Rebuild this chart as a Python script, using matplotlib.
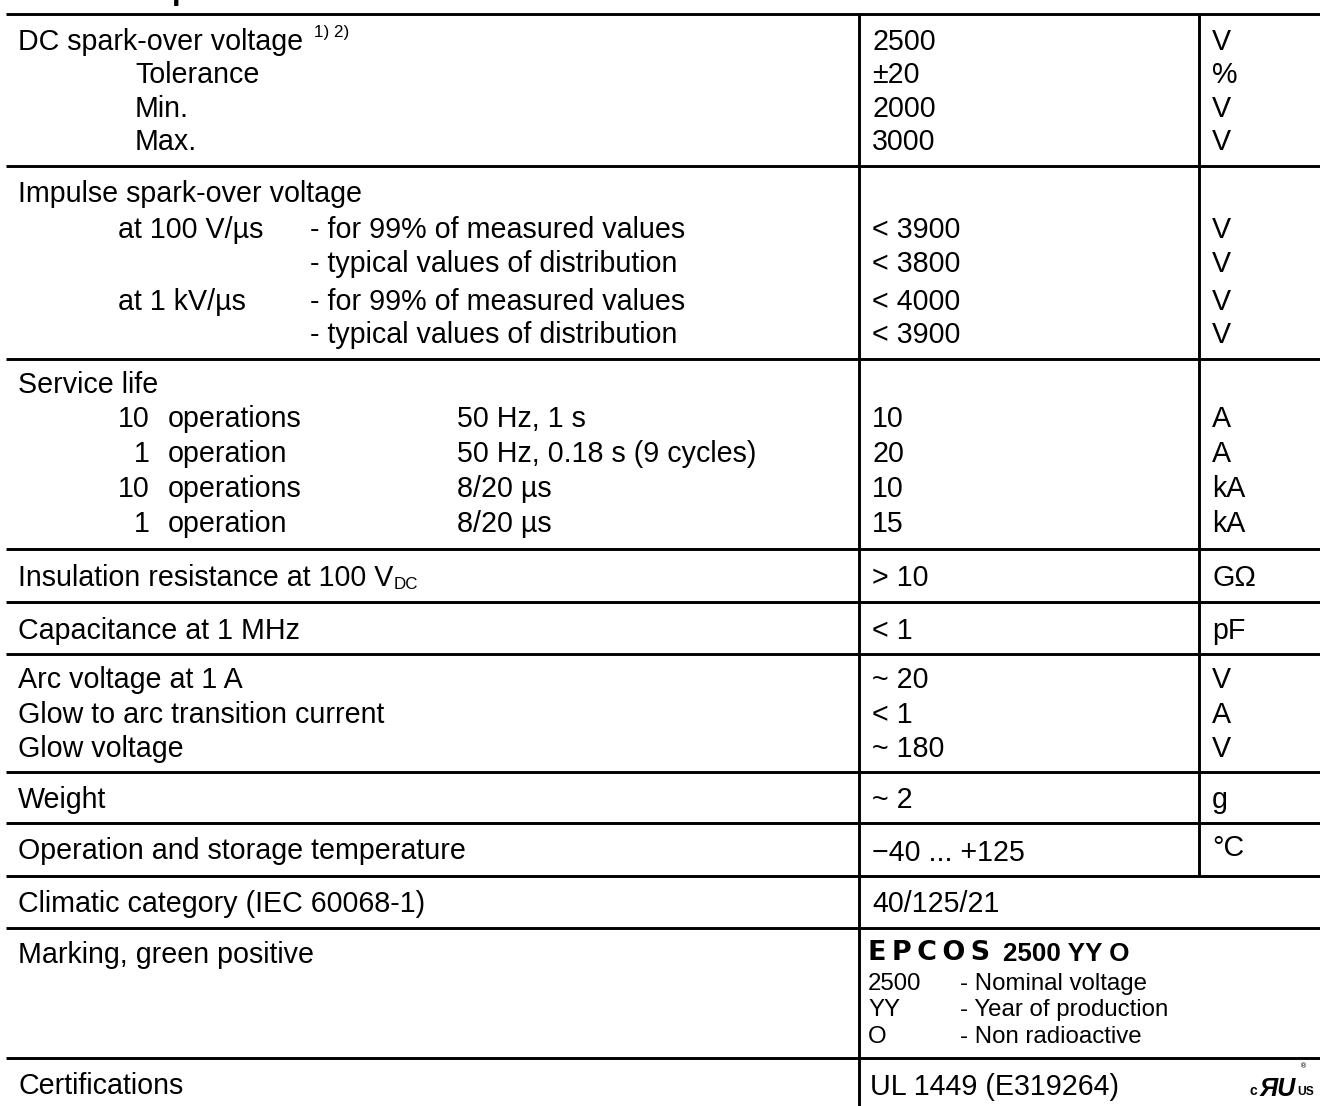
import matplotlib
matplotlib.use("Agg")
import matplotlib.pyplot as plt

FONT = "Liberation Sans"
PX = 0.72  # points per pixel at dpi 100
BODY = 28.6 * PX
SMALL = 24 * PX
SUP = 17 * PX

# ---- table content ----
title = "Electrical specifications"

dc_labels = ["DC spark-over voltage", "Tolerance", "Min.", "Max."]
dc_values = ["2500", "±20", "2000", "3000"]
dc_units = ["V", "%", "V", "V"]

imp_rates = ["at 100 V/µs", "", "at 1 kV/µs", ""]
imp_desc = ["- for 99% of measured values", "- typical values of distribution",
            "- for 99% of measured values", "- typical values of distribution"]
imp_values = ["< 3900", "< 3800", "< 4000", "< 3900"]
imp_units = ["V", "V", "V", "V"]

sl_counts = ["10", "1", "10", "1"]
sl_ops = ["operations", "operation", "operations", "operation"]
sl_cond = ["50 Hz, 1 s", "50 Hz, 0.18 s (9 cycles)", "8/20 µs", "8/20 µs"]
sl_values = ["10", "20", "10", "15"]
sl_units = ["A", "A", "kA", "kA"]

arc_labels = ["Arc voltage at 1 A", "Glow to arc transition current", "Glow voltage"]
arc_values = ["~ 20", "< 1", "~ 180"]
arc_units = ["V", "A", "V"]

single_labels = ["Capacitance at 1 MHz", "Weight", "Operation and storage temperature"]
single_values = ["< 1", "~ 2", "\u221240 ... +125"]
single_units = ["pF", "g", "°C"]

marking_codes = ["2500", "YY", "O"]
marking_meaning = ["- Nominal voltage", "- Year of production", "- Non radioactive"]

# ---- layout ----
fig = plt.figure(figsize=(13.2, 11.06), dpi=100)
ax = fig.add_axes([0, 0, 1, 1])
ax.set_xlim(0, 1320)
ax.set_ylim(1106, 0)
ax.axis("off")

LW = 2.1
X0, XV, XU = 18, 872, 1212
VL1, VL2 = 859, 1199
hlines = [14, 166, 359, 549, 602, 654, 772, 823, 876, 928, 1058]
for y in hlines:
    ax.plot([6, 1320], [y, y], color="black", lw=LW, solid_capstyle="butt")
ax.plot([VL1, VL1], [14, 1106], color="black", lw=LW, solid_capstyle="butt")
ax.plot([VL2, VL2], [14, 876], color="black", lw=LW, solid_capstyle="butt")


def put(x, y, s, size=BODY, **kw):
    kw.setdefault("family", FONT)
    return ax.text(x, y, s, fontsize=size, va="baseline", color="black", **kw)


# title (only its descender is visible above the top rule)
put(8, -1.5, title, size=31 * PX, weight="bold", clip_on=False)

# DC spark-over voltage
dc_base = [50, 83, 117, 150]
for i, (lab, val, unit, yb) in enumerate(zip(dc_labels, dc_values, dc_units, dc_base)):
    t = put(X0 if i == 0 else 135, yb, lab)
    if i == 0:
        ax.annotate("1) 2)", xy=(1, 0), xycoords=t, xytext=(8, 13.5),
                    textcoords="offset points", fontsize=SUP, family=FONT,
                    va="baseline", ha="left")
    put(XV, yb, val)
    put(XU, yb, unit)

# Impulse spark-over voltage
put(X0, 202, "Impulse spark-over voltage")
imp_base = [238, 272, 310, 343]
for rate, desc, val, unit, yb in zip(imp_rates, imp_desc, imp_values, imp_units, imp_base):
    if rate:
        put(118, yb, rate)
    put(310, yb, desc)
    put(XV, yb, val)
    put(XU, yb, unit)

# Service life
put(X0, 393, "Service life")
sl_base = [427, 462, 497, 532]
for cnt, op, cond, val, unit, yb in zip(sl_counts, sl_ops, sl_cond, sl_values, sl_units, sl_base):
    put(150, yb, cnt, ha="right")
    put(168, yb, op)
    put(457, yb, cond)
    put(XV, yb, val)
    put(XU, yb, unit)

# Insulation resistance
t = put(X0, 586, "Insulation resistance at 100 V")
ax.annotate("DC", xy=(1, 0), xycoords=t, xytext=(0.5, 2), textcoords="offset points",
            fontsize=SUP, family=FONT, va="baseline", ha="left")
put(XV, 586, "> 10")
put(XU, 586, "GΩ")

# Capacitance
put(X0, 639, single_labels[0])
put(XV, 639, single_values[0])
put(XU, 639, single_units[0])

# Arc / glow
for lab, val, unit, yb in zip(arc_labels, arc_values, arc_units, [688, 723, 757]):
    put(X0, yb, lab)
    put(XV, yb, val)
    put(XU, yb, unit)

# Weight
put(X0, 808, single_labels[1])
put(XV, 808, single_values[1])
put(XU, 808, single_units[1])

# Temperature
put(X0, 859, single_labels[2])
put(XV, 861, single_values[2])
put(XU, 856, single_units[2])

# Climatic category
put(X0, 912, "Climatic category (IEC 60068-1)")
put(XV, 912, "40/125/21")

# Marking
put(X0, 963, "Marking, green positive")
put(XV - 4, 960, "E\u2009P\u2009C\u2009O\u2009S", size=27 * PX, weight="bold",
    family="DejaVu Sans")
put(1003, 961, "2500 YY O", size=26 * PX, weight="bold")
for code, meaning, yb in zip(marking_codes, marking_meaning, [990, 1016, 1043]):
    put(XV - 4, yb, code, size=SMALL)
    put(960, yb, meaning, size=SMALL)

# Certifications
put(X0, 1094, "Certifications")
put(XV - 2, 1095, "UL 1449 (E319264)")
put(1250, 1095, "c", size=14 * PX, weight="bold")
put(1260, 1096, "ЯU", size=25 * PX, weight="bold", style="italic")
put(1297, 1095, "US", size=12 * PX, weight="bold")
put(1300, 1068, "®", size=7 * PX, family="DejaVu Sans")

fig.savefig("out.png", dpi=100)
